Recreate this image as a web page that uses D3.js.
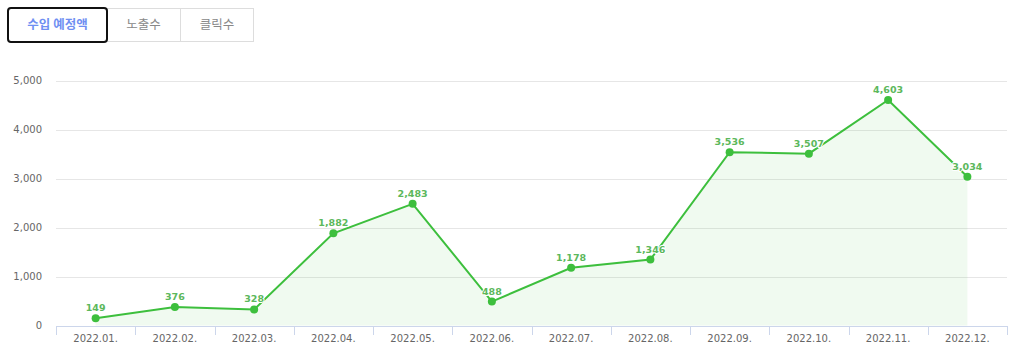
<!DOCTYPE html>
<html><head><meta charset="utf-8">
<script src="https://cdn.jsdelivr.net/npm/d3@7/dist/d3.min.js"></script>
<style>
html,body{margin:0;padding:0;background:#fff;}
svg{display:block;}
</style></head>
<body>
<svg id="chart" width="1013" height="363"></svg>
<script>
const tabs = ["수입 예정액", "노출수", "클릭수"];
const months = ["2022.01.","2022.02.","2022.03.","2022.04.","2022.05.","2022.06.","2022.07.","2022.08.","2022.09.","2022.10.","2022.11.","2022.12."];
const revenue = [149, 376, 328, 1882, 2483, 488, 1178, 1346, 3536, 3507, 4603, 3034];
const yTicks = [0, 1000, 2000, 3000, 4000, 5000];

const svg = d3.select("#chart");
const fmt = d3.format(",");

// tabs
const tabX = [8, 107, 180, 254];
const tg = svg.append("g");
tg.append("rect").attr("x", 8.5).attr("y", 8.5).attr("width", 245).attr("height", 33)
  .attr("fill", "#fff").attr("stroke", "#dddddd");
tg.append("line").attr("x1", 180.5).attr("x2", 180.5).attr("y1", 8.5).attr("y2", 41.5).attr("stroke", "#dddddd");
tg.append("rect").attr("x", 8).attr("y", 8).attr("width", 99).attr("height", 34).attr("rx", 3)
  .attr("fill", "#fff").attr("stroke", "#111").attr("stroke-width", 2);
tabs.forEach((t, i) => {
  tg.append("text").attr("x", (tabX[i] + tabX[i+1]) / 2).attr("y", 25).attr("dy", "0.35em")
    .attr("text-anchor", "middle")
    .attr("font-family", "'Noto Sans CJK KR', sans-serif")
    .attr("font-size", 12.5).attr("font-weight", i === 0 ? 700 : 400)
    .attr("fill", i === 0 ? "#6f8ff2" : "#888888")
    .text(t);
});

const x = d3.scaleBand().domain(months).range([56, 1007]);
const y = d3.scaleLinear().domain([0, 5000]).range([325.5, 80.5]);

// grid
svg.append("g").selectAll("line").data(yTicks.filter(d => d > 0)).join("line")
  .attr("x1", 56).attr("x2", 1007)
  .attr("y1", d => Math.round(y(d)) + 0.5).attr("y2", d => Math.round(y(d)) + 0.5)
  .attr("stroke", "#e6e6e6");

// y labels
svg.append("g").selectAll("text").data(yTicks).join("text")
  .attr("x", 42).attr("y", d => y(d)).attr("dy", "0.35em")
  .attr("text-anchor", "end")
  .attr("font-family", "'DejaVu Sans', sans-serif").attr("font-size", 10)
  .attr("fill", "#666").text(d => fmt(d));

const cx = d => x(d) + x.bandwidth() / 2;
const pts = months.map((m, i) => [cx(m), y(revenue[i])]);

// area
svg.append("path")
  .attr("d", d3.area().x(d => d[0]).y0(y(0)).y1(d => d[1])(pts))
  .attr("fill", "#3cbf3c").attr("fill-opacity", 0.08);

// x axis
const xAxis = d3.axisBottom(x).tickSize(0).tickPadding(9);
const ax = svg.append("g").attr("transform", "translate(0,326)").call(xAxis);
ax.select(".domain").attr("stroke", "#ccd6eb");
ax.selectAll("text").attr("font-family", "'DejaVu Sans', sans-serif").attr("font-size", 10).attr("fill", "#666");
// boundary ticks
const bounds = months.map(m => x(m)).concat([x.range()[1]]);
ax.append("g").selectAll("line").data(bounds).join("line")
  .attr("x1", d => Math.round(d) + 0.5).attr("x2", d => Math.round(d) + 0.5)
  .attr("y1", 0).attr("y2", 9).attr("stroke", "#ccd6eb");

// line
svg.append("path")
  .attr("d", d3.line()(pts))
  .attr("fill", "none").attr("stroke", "#3dbf3d").attr("stroke-width", 2);

svg.append("g").selectAll("circle").data(pts).join("circle")
  .attr("cx", d => d[0]).attr("cy", d => d[1]).attr("r", 4).attr("fill", "#3dbf3d");

// labels
svg.append("g").selectAll("text").data(revenue).join("text")
  .attr("x", (d, i) => pts[i][0]).attr("y", (d, i) => pts[i][1] - 7)
  .attr("text-anchor", "middle")
  .attr("font-family", "'DejaVu Sans', sans-serif").attr("font-size", 9.5).attr("font-weight", 700)
  .attr("fill", "#5cb85c")
  .attr("stroke", "#fff").attr("stroke-width", 2).attr("paint-order", "stroke").attr("stroke-linejoin", "round")
  .text(d => fmt(d));
</script>
</body></html>
